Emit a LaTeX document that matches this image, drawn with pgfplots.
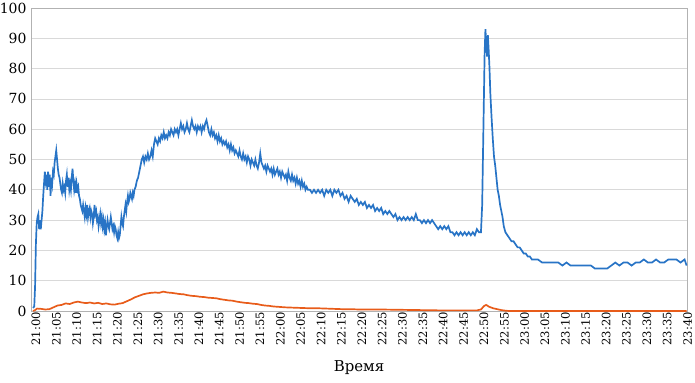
\documentclass[border=0pt]{standalone}
\usepackage{pgfplots}
\pgfplotsset{compat=1.18}
\usepackage{fontspec}
\setmainfont{DejaVu Serif}
\definecolor{cblue}{RGB}{40,116,198}
\definecolor{corange}{RGB}{232,92,26}
\begin{document}
\begin{tikzpicture}
\begin{axis}[name=ax,
  scale only axis, width=656bp, height=303bp,
  xmin=-0.5, xmax=160.6, ymin=0, ymax=100,
  xtick={0,5,...,160},
  xticklabels={21:00,21:05,21:10,21:15,21:20,21:25,21:30,21:35,21:40,21:45,21:50,21:55,22:00,22:05,22:10,22:15,22:20,22:25,22:30,22:35,22:40,22:45,22:50,22:55,23:00,23:05,23:10,23:15,23:20,23:25,23:30,23:35,23:40},
  ytick={0,10,...,100},
  major tick length=0pt,
  ymajorgrids, grid style={draw=gray!30, line width=0.8pt},
  axis line style={draw=gray!60, line width=0.8pt},
  /pgf/number format/assume math mode=true,
  yticklabel style={font=\fontsize{14}{16}\selectfont, xshift=-1bp},
  xticklabel style={font=\fontsize{11.6}{13}\selectfont, rotate=90, anchor=east, yshift=-3bp, inner xsep=1bp},
  xlabel={Время},
  xlabel style={font=\fontsize{15}{17}\selectfont, at={(axis description cs:0.5,0)}, anchor=north, yshift=-49bp, inner sep=0pt},
  clip=false,
]
\addplot[cblue, line width=1.7pt] coordinates {
(0,1)(0.3,1.5)(0.5,8)(0.7,22)(0.9,29)(1.1,31)(1.3,32)(1.5,27)(1.7,30)(1.9,27)(2.1,30)(2.3,33)(2.5,38)(2.7,42)(2.9,46)(3.1,43)(3.3,45)(3.5,40)(3.7,46)(3.9,41)(4.1,45)(4.3,38)(4.5,44)(4.7,42)(4.9,46)(5.1,45)(5.3,49)(5.5,51)(5.7,53)(5.9,50)(6.1,47)(6.3,45)(6.5,44)(6.7,42)(6.9,40)(7.1,39)(7.3,42)(7.5,40)(7.7,41)(7.9,39)(8.1,43)(8.3,45)(8.5,41)(8.7,44)(8.9,40)(9.1,42)(9.3,40)(9.5,44)(9.7,47)(9.9,43)(10.1,40)(10.3,42)(10.5,39)(10.7,42)(10.9,40)(11.1,41)(11.3,38)(11.5,37)(11.7,35)(11.9,34)(12.1,33)(12.3,35)(12.5,33)(12.7,31)(12.9,34)(13.1,32)(13.3,35)(13.5,31)(13.7,33)(13.9,34)(14.1,31)(14.3,33)(14.5,32)(14.7,29)(14.9,31)(15.1,35)(15.3,32)(15.5,33)(15.7,30)(15.9,31)(16.1,28)(16.3,30)(16.5,32)(16.7,29)(16.9,31)(17.1,28)(17.3,30)(17.5,27)(17.7,29)(17.9,25)(18.1,28)(18.3,30)(18.5,28)(18.7,27)(18.9,29)(19.1,31)(19.3,29)(19.5,27)(19.7,28)(19.9,26)(20.1,28)(20.3,27)(20.5,25)(20.7,24)(20.9,26)(21.1,24)(21.3,25)(21.5,28)(21.7,31)(21.9,29)(22.1,28)(22.3,31)(22.5,33)(22.7,35)(22.9,33)(23.1,36)(23.3,38)(23.5,36)(23.7,37)(23.9,39)(24.1,38)(24.3,37)(24.5,39)(24.7,38)(24.9,40)(25.2,41)(25.5,43)(25.8,44)(26.1,46)(26.4,48)(26.7,50)(27.0,51)(27.3,49)(27.6,51)(27.9,50)(28.2,52)(28.5,50)(28.8,51)(29.1,53)(29.4,51)(29.7,55)(30.0,57)(30.3,56)(30.6,55)(30.9,57)(31.2,56)(31.5,58)(31.8,57)(32.1,59)(32.4,57)(32.7,58)(33.0,57)(33.3,59)(33.6,58)(33.9,60)(34.2,59)(34.5,58)(34.8,60)(35.1,59)(35.4,60)(35.7,58)(36.0,60)(36.3,62)(36.6,60)(36.9,61)(37.2,59)(37.5,60)(37.8,62)(38.1,60)(38.4,59)(38.7,61)(39.0,63)(39.3,61)(39.6,60)(39.9,61)(40.2,59)(40.5,61)(40.8,60)(41.1,61)(41.4,59)(41.7,61)(42.0,60)(42.3,62)(42.6,63)(42.9,61)(43.2,59)(43.5,58)(43.8,60)(44.1,58)(44.4,59)(44.7,57)(45.0,58)(45.3,56)(45.6,58)(45.9,56)(46.2,57)(46.5,55)(46.8,56)(47.1,55)(47.4,56)(47.7,54)(48.0,55)(48.3,53)(48.6,55)(48.9,53)(49.2,54)(49.5,52)(49.8,53)(50.1,52)(50.4,51)(50.7,53)(51.0,51)(51.3,50)(51.6,52)(51.9,50)(52.2,51)(52.5,49)(52.8,51)(53.1,50)(53.4,48)(53.7,50)(54.0,49)(54.3,48)(54.6,50)(54.9,48)(55.2,47)(55.5,49)(55.8,52)(56.1,49)(56.4,48)(56.7,47)(57.0,48)(57.3,46)(57.6,48)(57.9,47)(58.2,46)(58.5,47)(58.8,45)(59.1,47)(59.4,45)(59.7,46)(60.0,47)(60.3,45)(60.6,46)(60.9,44)(61.2,46)(61.5,45)(61.8,44)(62.1,45)(62.4,43)(62.7,46)(63.0,44)(63.3,43)(63.6,45)(63.9,43)(64.2,44)(64.5,42)(64.8,44)(65.1,42)(65.4,43)(65.7,41)(66.0,43)(66.3,41)(66.6,42)(66.9,40)(67.2,41)(67.5,40)(68.0,40)(68.5,39)(69.0,40)(69.5,39)(70.0,40)(70.5,39)(71.0,40)(71.5,38)(72.0,40)(72.5,39)(73.0,40)(73.5,38)(74.0,40)(74.5,39)(75.0,40)(75.5,38)(76.0,39)(76.5,37)(77.0,38)(77.5,36)(78.0,38)(78.5,37)(79.0,36)(79.5,37)(80.0,35)(80.5,36)(81.0,35)(81.5,36)(82.0,34)(82.5,35)(83.0,34)(83.5,35)(84.0,33)(84.5,34)(85.0,33)(85.5,34)(86.0,32)(86.5,33)(87.0,32)(87.5,33)(88.0,32)(88.5,31)(89.0,32)(89.5,30)(90.0,31)(90.5,30)(91.0,31)(91.5,30)(92.0,31)(92.5,30)(93.0,31)(93.5,30)(94.0,32)(94.5,30)(95.0,30)(95.5,29)(96.0,30)(96.5,29)(97.0,30)(97.5,29)(98.0,30)(98.5,29)(99.0,28)(99.5,27)(100.0,28)(100.5,27)(101.0,28)(101.5,27)(102.0,28)(102.5,26)(103.0,26)(103.5,25)(104.0,26)(104.5,25)(105.0,26)(105.5,25)(106.0,26)(106.5,25)(107.0,26)(107.5,25)(108.0,26)(108.5,25)(109.0,27)(109.5,26)(110.0,26)(110.3,35)(110.6,60)(110.9,85)(111.1,93)(111.3,88)(111.5,84)(111.7,91)(111.9,86)(112.1,80)(112.3,72)(112.6,64)(112.9,57)(113.2,51)(113.5,48)(113.8,44)(114.1,40)(114.4,38)(114.7,35)(115.0,33)(115.3,31)(115.6,28)(116.0,26)(116.5,25)(117.0,24)(117.5,23)(118.0,23)(118.5,22)(119.0,21)(119.5,21)(120.0,20)(120.5,19)(121.0,19)(121.5,18)(122.0,18)(122.5,17)(123.0,17)(124,17)(125,16)(126,16)(127,16)(128,16)(129,16)(130,15)(131,16)(132,15)(133,15)(134,15)(135,15)(136,15)(137,15)(138,14)(139,14)(140,14)(141,14)(142,15)(143,16)(144,15)(145,16)(146,16)(147,15)(148,16)(149,16)(150,17)(151,16)(152,16)(153,17)(154,16)(155,16)(156,17)(157,17)(158,17)(159,16)(160,17)(160.5,15)
};
\addplot[corange, line width=1.7pt] coordinates {
(0,0)(0.5,0.3)(1,0.8)(2,0.7)(3,0.5)(4,0.6)(5,1.2)(6,1.8)(7,2.0)(8,2.5)(9,2.3)(10,2.8)(11,3.1)(12,2.8)(13,2.6)(14,2.8)(15,2.5)(16,2.7)(17,2.3)(18,2.5)(19,2.2)(20,2.1)(21,2.4)(22,2.6)(23,3.2)(24,3.8)(25,4.5)(26,5.0)(27,5.5)(28,5.8)(29,6.0)(30,6.1)(31,6.0)(32,6.4)(33,6.1)(34,6.0)(35,5.8)(36,5.6)(37,5.5)(38,5.2)(39,5.0)(40,4.9)(41,4.7)(42,4.6)(43,4.4)(44,4.3)(45,4.2)(46,3.9)(47,3.7)(48,3.5)(49,3.4)(50,3.1)(51,2.9)(52,2.7)(53,2.6)(54,2.4)(55,2.3)(56,2.0)(57,1.8)(58,1.7)(59,1.5)(60,1.4)(62,1.2)(64,1.1)(66,1.0)(68,0.9)(70,0.9)(72,0.8)(74,0.7)(76,0.6)(78,0.6)(80,0.5)(85,0.5)(90,0.4)(95,0.3)(100,0.2)(105,0.2)(109,0.2)(110,0.5)(110.8,1.7)(111.3,2.0)(112,1.4)(113,0.9)(114,0.6)(115,0.3)(116,0.1)(117,0)(160.5,0)
};
\end{axis}
\pgfresetboundingbox
\path ([shift={(-31bp,-72bp)}]ax.south west) rectangle ([shift={(8bp,8bp)}]ax.north east);
\end{tikzpicture}
\end{document}
